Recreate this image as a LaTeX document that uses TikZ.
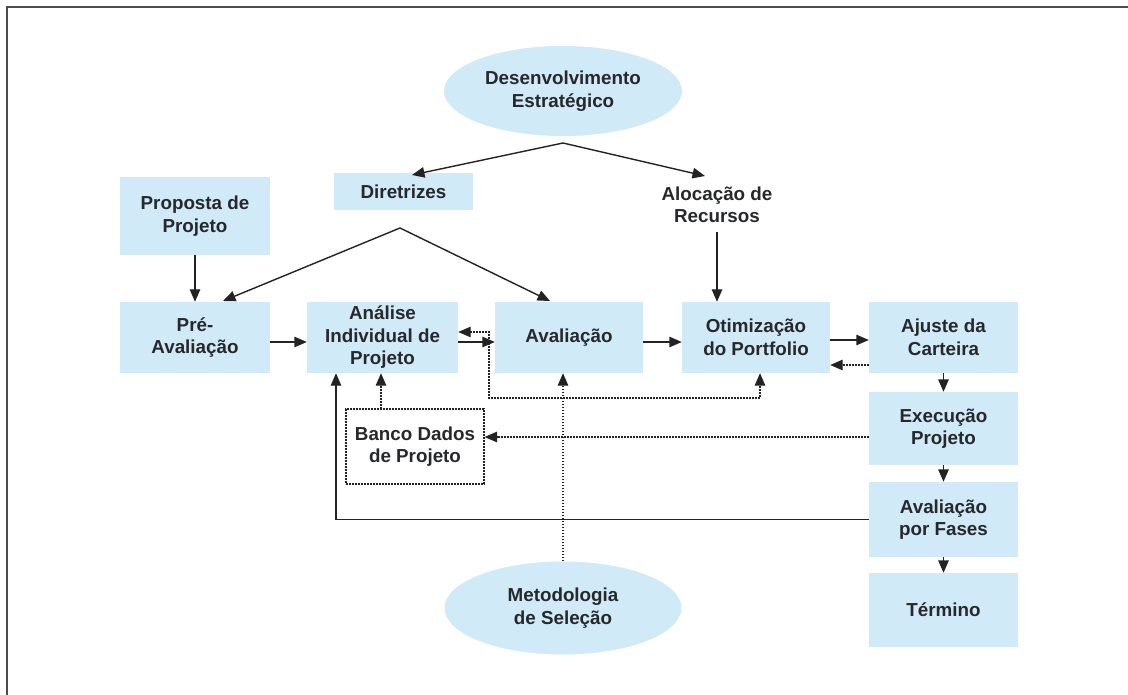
\documentclass[tikz,border=0pt]{standalone}
\usepackage{fontspec}
\setmainfont{Liberation Sans}
\usetikzlibrary{shapes.geometric,arrows.meta}
\definecolor{boxfill}{RGB}{208,234,247}
\definecolor{ink}{RGB}{38,40,44}
\definecolor{lin}{RGB}{35,35,35}
\tikzset{
  x=1pt,y=-1pt,
  txt/.style={font=\fontsize{18.8}{22.5}\selectfont\bfseries, text=ink, align=center},
  bluebox/.style={txt, rectangle, fill=boxfill, draw=none, inner sep=0pt},
  blueell/.style={txt, ellipse, fill=boxfill, draw=none, inner sep=0pt},
  dotbox/.style={txt, rectangle, draw=lin, line width=1.1pt, dash pattern=on 1.6pt off 1.4pt, inner sep=0pt},
  tip/.tip={Triangle[length=12.5pt,width=10.5pt]},
  conn/.style={draw=lin, line width=1.4pt, -tip},
  dconn/.style={conn, line width=1.2pt, dash pattern=on 1.6pt off 1.4pt},
  frameline/.style={draw=black!70, line width=2pt}
}
\begin{document}
\begin{tikzpicture}
\useasboundingbox (0,0) rectangle (1128,695);
\fill[white] (0,0) rectangle (1128,695);
\draw[frameline] (7,695) -- (7,7) -- (1128,7);

% nodes
\node[blueell, minimum width=238, minimum height=90] (des) at (563,91) {Desenvolvimento\\Estratégico};
\node[bluebox, minimum width=139, minimum height=37] (dir) at (403.5,191.5) {Diretrizes};
\node[txt] (aloc) at (717,205) {Alocação de\\Recursos};
\node[bluebox, minimum width=150, minimum height=78] (prop) at (195,216) {Proposta de\\Projeto};
\node[bluebox, minimum width=150, minimum height=71] (pre) at (195,337.5) {Pré-\\Avaliação};
\node[bluebox, minimum width=151, minimum height=71] (anal) at (382.5,337.5) {Análise\\Individual de\\Projeto};
\node[bluebox, minimum width=148, minimum height=71] (aval) at (569,337.5) {Avaliação};
\node[bluebox, minimum width=148, minimum height=71] (otim) at (756,337.5) {Otimização\\do Portfolio};
\node[bluebox, minimum width=149, minimum height=71] (ajus) at (943.5,337.5) {Ajuste da\\Carteira};
\node[bluebox, minimum width=149, minimum height=73] (exec) at (943.5,428.5) {Execução\\Projeto};
\node[bluebox, minimum width=149, minimum height=75] (fase) at (943.5,519.5) {Avaliação\\por Fases};
\node[bluebox, minimum width=149, minimum height=74] (term) at (943.5,610) {Término};
\node[dotbox, minimum width=138, minimum height=75] (banco) at (415,446.5) {Banco Dados\\de Projeto};
\node[blueell, minimum width=237, minimum height=93] (met) at (563,608) {Metodologia\\de Seleção};

% coordinates
\coordinate (apexA) at (563,143);
\coordinate (dirT) at (412,175);
\coordinate (alocT) at (705,176);
\coordinate (apexB) at (400,228);
\coordinate (preT) at (223,301);
\coordinate (avalT) at (550,301);
\coordinate (alocB) at (717,232);
\coordinate (cA) at (489,332);
\coordinate (cB) at (489,398);
\coordinate (cC) at (760,398);
\coordinate (bT) at (381,409);
\coordinate (lineE) at (869,437);
\coordinate (lineF) at (336,519.5);

% solid connectors
\draw[conn] (apexA) -- (dirT);
\draw[conn] (apexA) -- (alocT);
\draw[conn] (apexB) -- (preT);
\draw[conn] (apexB) -- (avalT);
\draw[conn] (alocB) -- (alocB |- otim.north);
\draw[conn] (prop.south) -- (pre.north);
\draw[conn] ([yshift=-4.5]pre.east) -- ([yshift=-4.5]anal.west);
\draw[conn] ([yshift=-4.5]anal.east) -- ([yshift=-4.5]aval.west);
\draw[conn] ([yshift=-4.5]aval.east) -- ([yshift=-4.5]otim.west);
\draw[conn] ([yshift=-2.5]otim.east) -- ([yshift=-2.5]ajus.west);
\draw[conn] (ajus.south) -- (exec.north);
\draw[conn] (exec.south) -- (fase.north);
\draw[conn] (fase.south) -- (term.north);
\draw[conn] (fase.west) -- (fase.west -| lineF) -- (lineF |- anal.south);

% dotted connectors
\draw[dconn] ([yshift=-27.5]ajus.west) -- ([yshift=-27.5]otim.east);
\draw[dconn] (lineE) -- (lineE -| banco.east);
\draw[dconn] (bT) -- (bT |- anal.south);
\draw[dconn] (met.north) -- (met.north |- aval.south);
\draw[dconn, tip-tip] ([yshift=5.5]anal.east) -- (cA) -- (cB) -- (cC) -- (cC |- otim.south);
\end{tikzpicture}
\end{document}
